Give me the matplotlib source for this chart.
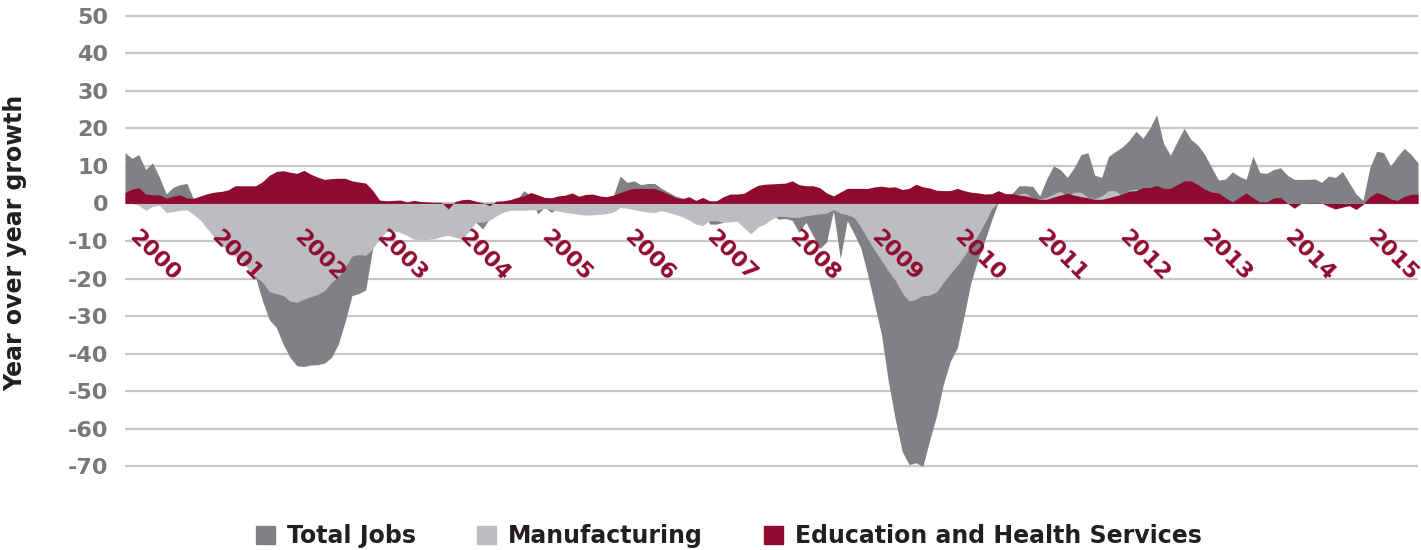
import numpy as np
import matplotlib.pyplot as plt
from matplotlib.patches import Patch

# monthly year-over-year growth, Jan 2000 .. Sep 2015
total_jobs = [
    13.5, 12.0, 13.0, 9.0, 10.8, 7.0, 2.5, 4.3, 5.0, 5.3, 1.0, -1.0,
    -2.0, -3.0, -4.0, -5.0, -7.0, -9.0, -12.0, -19.8, -26.0, -31.0, -33.0, -37.5,
    -41.0, -43.2, -43.4, -43.0, -42.9, -42.5, -41.0, -37.5, -31.5, -24.5, -24.0, -23.0,
    -12.0, -8.5, -7.0, -6.0, -5.0, -4.0, -4.0, -3.0, -3.0, -3.0, -3.0, -3.0,
    -2.0, -2.0, -3.0, -5.0, -6.8, -4.0, -2.5, -1.0, 0.0, 1.0, 3.4, 2.0,
    -2.8, -1.0, -2.4, -1.0, 0.5, 1.0, 1.5, 1.5, 1.5, 1.5, 1.5, 2.0,
    7.3, 5.6, 6.0, 5.0, 5.3, 5.3, 4.0, 3.0, 2.0, 1.5, 1.0, 0.5,
    -1.0, -5.5, -5.5, -5.0, -3.0, -2.0, -2.0, -2.0, -2.0, -2.0, -2.5, -4.2,
    -4.0, -4.5, -7.7, -5.0, -8.5, -12.0, -10.3, -2.0, -14.7, -4.6, -8.0, -12.0,
    -19.0, -27.0, -35.0, -47.5, -57.5, -66.0, -69.5, -69.0, -70.0, -63.0, -56.5, -48.0,
    -42.0, -38.5, -30.0, -21.0, -15.0, -10.0, -4.5, 0.5, 1.5, 2.7, 4.7, 4.7,
    4.5, 2.0, 6.5, 10.0, 9.0, 6.9, 9.5, 13.0, 13.5, 7.5, 6.9, 12.5,
    13.8, 15.0, 16.8, 19.2, 17.3, 20.0, 23.6, 16.0, 12.8, 16.5, 20.0, 17.0,
    15.5, 13.0, 9.5, 6.2, 6.5, 8.4, 7.2, 6.4, 12.6, 8.2, 8.0, 9.0,
    9.5, 7.5, 6.4, 6.4, 6.4, 6.5, 5.6, 7.3, 6.9, 8.5, 5.5, 2.5,
    0.8, 9.5, 13.9, 13.5, 10.0, 12.5, 14.6, 13.0, 10.8,
]

manufacturing = [
    0.3, 0.0, -0.5, -1.8, -0.8, -0.5, -2.4, -2.2, -1.8, -1.7, -3.0, -4.5,
    -6.8, -9.0, -11.0, -12.5, -14.0, -15.5, -17.5, -19.5, -21.0, -23.5, -24.0, -24.5,
    -26.0, -26.3, -25.5, -24.8, -24.2, -23.2, -21.0, -19.5, -17.0, -14.0, -13.6, -13.8,
    -12.0, -9.5, -7.5, -7.3, -7.7, -8.5, -9.5, -9.6, -9.6, -9.4, -8.8, -8.5,
    -9.0, -9.5, -7.5, -5.0, -5.0, -4.5, -3.3, -2.3, -1.8, -1.8, -1.8, -1.7,
    -1.7, -1.3, -1.7, -2.0, -2.4, -2.6, -2.9, -3.1, -3.0, -2.9, -2.7, -2.3,
    -1.1, -1.3, -1.6, -2.0, -2.3, -2.4, -1.9, -2.4, -2.9, -3.5, -4.4, -5.5,
    -5.9, -4.6, -4.6, -5.0, -4.9, -4.7, -6.5, -8.1, -6.3, -5.5, -4.2, -3.4,
    -3.5, -3.7, -3.7, -3.3, -3.0, -2.8, -2.6, -1.6, -2.6, -3.0, -3.7, -6.3,
    -9.5, -12.5, -15.2, -18.0, -20.5, -23.8, -26.0, -25.5, -24.5, -24.4, -23.5, -21.0,
    -18.7, -16.5, -14.0, -11.3, -8.5, -5.2, -1.5, 0.5, 1.5, 1.5, 2.5, 2.8,
    1.3, 1.2, 1.6, 2.5, 3.2, 2.0, 3.0, 3.0, 1.6, 1.3, 2.0, 3.4,
    3.4, 2.0, 3.6, 3.8, 3.5, 3.5, 4.0, 3.5, 3.5, 3.5, 4.0, 4.0,
    2.5, 2.0, 1.5, 1.5, 1.0, 0.2, 1.0, 1.5, 1.0, 0.2, 0.2, 1.0,
    1.0, 0.0, -0.5, 0.0, 0.0, 0.0, 0.0, -0.3, -0.5, -0.5, -0.3, -0.5,
    -0.2, 1.0, 1.5, 1.5, 0.8, 0.5, 1.0, 1.5, 1.5,
]

edu_health = [
    2.9, 3.8, 4.2, 2.5, 2.3, 2.3, 1.4, 1.9, 2.3, 1.4, 1.4, 2.0,
    2.6, 3.0, 3.2, 3.6, 4.7, 4.7, 4.7, 4.7, 5.8, 7.5, 8.5, 8.7,
    8.3, 8.0, 8.8, 7.8, 7.0, 6.4, 6.6, 6.7, 6.7, 6.0, 5.7, 5.4,
    3.5, 0.9, 0.7, 0.8, 0.9, 0.4, 0.8, 0.5, 0.4, 0.3, 0.3, -1.5,
    0.5, 1.0, 1.1, 0.6, 0.2, -0.6, 0.6, 0.7, 1.0, 1.6, 2.0, 2.9,
    2.3, 1.6, 1.5, 2.0, 2.2, 2.8, 1.9, 2.4, 2.5, 2.0, 1.8, 2.2,
    2.9, 3.5, 4.0, 4.0, 4.0, 4.0, 3.3, 2.5, 1.6, 1.2, 1.8, 0.8,
    1.6, 0.7, 0.7, 1.8, 2.5, 2.5, 2.7, 3.8, 4.8, 5.1, 5.2, 5.3,
    5.4, 6.0, 5.0, 4.7, 4.7, 4.2, 2.8, 2.0, 3.0, 4.0, 4.0, 4.0,
    4.0, 4.4, 4.6, 4.3, 4.4, 3.7, 4.0, 5.1, 4.4, 4.1, 3.5, 3.4,
    3.4, 4.0, 3.4, 3.0, 2.8, 2.5, 2.6, 3.4, 2.6, 2.6, 2.2, 2.0,
    1.5, 1.1, 1.1, 1.7, 2.2, 2.7, 2.2, 1.8, 1.5, 1.1, 1.1, 1.5,
    2.0, 2.5, 3.3, 3.4, 4.2, 4.2, 4.8, 4.0, 4.0, 5.0, 6.0, 6.0,
    5.0, 3.8, 3.0, 2.8, 1.5, 0.4, 1.6, 2.8, 1.5, 0.4, 0.4, 1.4,
    1.6, 0.1, -1.3, 0.0, 0.1, 0.1, 0.1, -0.8, -1.5, -1.0, -0.6, -1.6,
    -0.3, 1.8, 2.9, 2.3, 1.2, 0.8, 1.9, 2.4, 2.5,
]

years = list(range(2000, 2016))
y_ticks = list(range(-70, 51, 10))

C_TOTAL = '#808184'
C_MFG = '#bcbdc0'
C_EDU = '#8f0a30'
C_TICK = '#77787b'

plt.rcParams['font.family'] = 'DejaVu Sans'
plt.rcParams['font.weight'] = 'bold'
plt.rcParams['axes.unicode_minus'] = False

fig = plt.figure(figsize=(14.21, 5.5), dpi=100)
ax = fig.add_axes([125 / 1421, 1 - 468 / 550, (1418 - 125) / 1421, (468 - 14) / 550])

x = np.arange(len(total_jobs))
ax.fill_between(x, 0, total_jobs, color=C_TOTAL, lw=0, zorder=1)
ax.fill_between(x, 0, manufacturing, color=C_MFG, lw=0, zorder=2)
ax.fill_between(x, 0, edu_health, color=C_EDU, lw=0, zorder=3)

ax.set_xlim(0, len(total_jobs) - 1)
ax.set_ylim(-70.4, 50.4)
ax.set_yticks(y_ticks)
ax.set_xticks([])
ax.yaxis.grid(True, color='#c6c7c9', lw=1.6)
ax.set_axisbelow(True)
ax.tick_params(axis='y', length=0, pad=12, labelsize=16, labelcolor=C_TICK)
for lbl in ax.get_yticklabels():
    lbl.set_fontweight('bold')
for s in ax.spines.values():
    s.set_visible(False)

for yr in years:
    ax.text(12 * (yr - 2000), -6.3, str(yr), rotation=-45, ha='left', va='top',
            color=C_EDU, fontsize=16, fontweight='bold', zorder=5)

fig.text(15 / 1421, 1 - 243 / 550, 'Year over year growth', rotation=90,
         ha='center', va='center', fontsize=17, fontweight='bold', color='#231f20')

handles = [Patch(color=C_TOTAL), Patch(color=C_MFG), Patch(color=C_EDU)]
fig.legend(handles, ['Total Jobs', 'Manufacturing', 'Education and Health Services'],
           loc='center', bbox_to_anchor=(729 / 1421, 1 - 536 / 550), ncol=3, frameon=False,
           handlelength=0.8, handleheight=0.8, handletextpad=0.5, columnspacing=2.6,
           prop={'size': 17, 'weight': 'bold'}, labelcolor='#231f20', borderpad=0)

fig.savefig('out.png', dpi=100)
